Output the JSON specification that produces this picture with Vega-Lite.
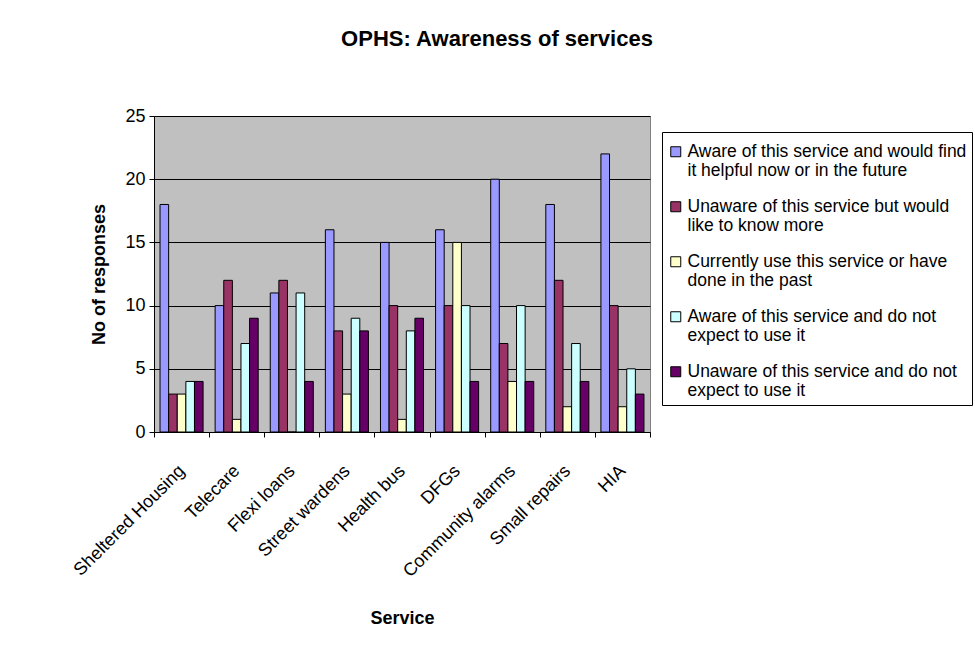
{
  "$schema": "https://vega.github.io/schema/vega-lite/v6.json",
  "width": 496,
  "height": 316,
  "autosize": {"type": "none"},
  "padding": {"left": 154, "top": 116, "right": 325, "bottom": 217},
  "background": "white",
  "title": {
    "text": "OPHS: Awareness of services",
    "font": "Liberation Sans",
    "fontSize": 22,
    "fontWeight": "bold",
    "color": "black",
    "anchor": "middle",
    "dx": 95,
    "offset": 56
  },
  "config": {
    "font": "Liberation Sans",
    "view": {"fill": "#C0C0C0", "stroke": "#808080", "strokeWidth": 1}
  },
  "data": {
    "values": [
      {"service": "Sheltered Housing", "series": "Aware of this service and would find it helpful now or in the future", "value": 18},
      {"service": "Sheltered Housing", "series": "Unaware of this service but would like to know more", "value": 3},
      {"service": "Sheltered Housing", "series": "Currently use this service or have done in the past", "value": 3},
      {"service": "Sheltered Housing", "series": "Aware of this service and do not expect to use it", "value": 4},
      {"service": "Sheltered Housing", "series": "Unaware of this service and do not expect to use it", "value": 4},
      {"service": "Telecare", "series": "Aware of this service and would find it helpful now or in the future", "value": 10},
      {"service": "Telecare", "series": "Unaware of this service but would like to know more", "value": 12},
      {"service": "Telecare", "series": "Currently use this service or have done in the past", "value": 1},
      {"service": "Telecare", "series": "Aware of this service and do not expect to use it", "value": 7},
      {"service": "Telecare", "series": "Unaware of this service and do not expect to use it", "value": 9},
      {"service": "Flexi loans", "series": "Aware of this service and would find it helpful now or in the future", "value": 11},
      {"service": "Flexi loans", "series": "Unaware of this service but would like to know more", "value": 12},
      {"service": "Flexi loans", "series": "Currently use this service or have done in the past", "value": 0},
      {"service": "Flexi loans", "series": "Aware of this service and do not expect to use it", "value": 11},
      {"service": "Flexi loans", "series": "Unaware of this service and do not expect to use it", "value": 4},
      {"service": "Street wardens", "series": "Aware of this service and would find it helpful now or in the future", "value": 16},
      {"service": "Street wardens", "series": "Unaware of this service but would like to know more", "value": 8},
      {"service": "Street wardens", "series": "Currently use this service or have done in the past", "value": 3},
      {"service": "Street wardens", "series": "Aware of this service and do not expect to use it", "value": 9},
      {"service": "Street wardens", "series": "Unaware of this service and do not expect to use it", "value": 8},
      {"service": "Health bus", "series": "Aware of this service and would find it helpful now or in the future", "value": 15},
      {"service": "Health bus", "series": "Unaware of this service but would like to know more", "value": 10},
      {"service": "Health bus", "series": "Currently use this service or have done in the past", "value": 1},
      {"service": "Health bus", "series": "Aware of this service and do not expect to use it", "value": 8},
      {"service": "Health bus", "series": "Unaware of this service and do not expect to use it", "value": 9},
      {"service": "DFGs", "series": "Aware of this service and would find it helpful now or in the future", "value": 16},
      {"service": "DFGs", "series": "Unaware of this service but would like to know more", "value": 10},
      {"service": "DFGs", "series": "Currently use this service or have done in the past", "value": 15},
      {"service": "DFGs", "series": "Aware of this service and do not expect to use it", "value": 10},
      {"service": "DFGs", "series": "Unaware of this service and do not expect to use it", "value": 4},
      {"service": "Community alarms", "series": "Aware of this service and would find it helpful now or in the future", "value": 20},
      {"service": "Community alarms", "series": "Unaware of this service but would like to know more", "value": 7},
      {"service": "Community alarms", "series": "Currently use this service or have done in the past", "value": 4},
      {"service": "Community alarms", "series": "Aware of this service and do not expect to use it", "value": 10},
      {"service": "Community alarms", "series": "Unaware of this service and do not expect to use it", "value": 4},
      {"service": "Small repairs", "series": "Aware of this service and would find it helpful now or in the future", "value": 18},
      {"service": "Small repairs", "series": "Unaware of this service but would like to know more", "value": 12},
      {"service": "Small repairs", "series": "Currently use this service or have done in the past", "value": 2},
      {"service": "Small repairs", "series": "Aware of this service and do not expect to use it", "value": 7},
      {"service": "Small repairs", "series": "Unaware of this service and do not expect to use it", "value": 4},
      {"service": "HIA", "series": "Aware of this service and would find it helpful now or in the future", "value": 22},
      {"service": "HIA", "series": "Unaware of this service but would like to know more", "value": 10},
      {"service": "HIA", "series": "Currently use this service or have done in the past", "value": 2},
      {"service": "HIA", "series": "Aware of this service and do not expect to use it", "value": 5},
      {"service": "HIA", "series": "Unaware of this service and do not expect to use it", "value": 3}
    ]
  },
  "mark": {"type": "bar", "stroke": "black", "strokeWidth": 1},
  "encoding": {
    "x": {
      "field": "service",
      "type": "nominal",
      "sort": ["Sheltered Housing", "Telecare", "Flexi loans", "Street wardens", "Health bus", "DFGs", "Community alarms", "Small repairs", "HIA"],
      "scale": {"paddingInner": 0, "paddingOuter": 0},
      "axis": {
        "title": "Service",
        "titleFontSize": 18,
        "titleFontWeight": "bold",
        "titleColor": "black",
        "titleBaseline": "middle",
        "titleY": 186,
        "labelAngle": -45,
        "labelAlign": "right",
        "labelBaseline": "middle",
        "labelFontSize": 18,
        "labelColor": "black",
        "labelPadding": 31,
        "labelLimit": 300,
        "tickBand": "extent",
        "tickSize": 5,
        "tickColor": "black",
        "domainColor": "black",
        "grid": false
      }
    },
    "xOffset": {
      "field": "series",
      "type": "nominal",
      "sort": [
        "Aware of this service and would find it helpful now or in the future",
        "Unaware of this service but would like to know more",
        "Currently use this service or have done in the past",
        "Aware of this service and do not expect to use it",
        "Unaware of this service and do not expect to use it"
      ],
      "scale": {"paddingInner": 0, "paddingOuter": 0.7}
    },
    "y": {
      "field": "value",
      "type": "quantitative",
      "scale": {"domain": [0, 25]},
      "axis": {
        "title": "No of responses",
        "titleFontSize": 18,
        "titleFontWeight": "bold",
        "titleColor": "black",
        "titlePadding": 16,
        "values": [0, 5, 10, 15, 20, 25],
        "labelFontSize": 18,
        "labelColor": "black",
        "labelPadding": 4,
        "tickSize": 5,
        "tickColor": "black",
        "domainColor": "black",
        "grid": true,
        "gridColor": "black",
        "gridOpacity": 1
      }
    },
    "color": {
      "field": "series",
      "type": "nominal",
      "scale": {
        "domain": [
          "Aware of this service and would find it helpful now or in the future",
          "Unaware of this service but would like to know more",
          "Currently use this service or have done in the past",
          "Aware of this service and do not expect to use it",
          "Unaware of this service and do not expect to use it"
        ],
        "range": ["#9999FF", "#993366", "#FFFFCC", "#CCFFFF", "#660066"]
      },
      "legend": {
        "title": " ",
        "titleFontSize": 1,
        "titlePadding": 5,
        "orient": "none",
        "legendX": 508,
        "legendY": 16,
        "fillColor": "white",
        "strokeColor": "black",
        "padding": 5,
        "symbolType": "square",
        "symbolSize": 100,
        "symbolStrokeColor": "black",
        "symbolStrokeWidth": 1,
        "symbolOpacity": 1,
        "labelFontSize": 17.5,
        "labelColor": "black",
        "labelLimit": 400,
        "labelLineHeight": 23,
        "labelBaseline": "middle",
        "labelOffset": 3,
        "rowPadding": 17,
        "labelExpr": "datum.label == 'Aware of this service and would find it helpful now or in the future' ? ['Aware of this service and would find', 'it helpful now or in the future'] : datum.label == 'Unaware of this service but would like to know more' ? ['Unaware of this service but would', 'like to know more'] : datum.label == 'Currently use this service or have done in the past' ? ['Currently use this service or have', 'done in the past'] : datum.label == 'Aware of this service and do not expect to use it' ? ['Aware of this service and do not', 'expect to use it'] : ['Unaware of this service and do not', 'expect to use it']"
      }
    }
  }
}
